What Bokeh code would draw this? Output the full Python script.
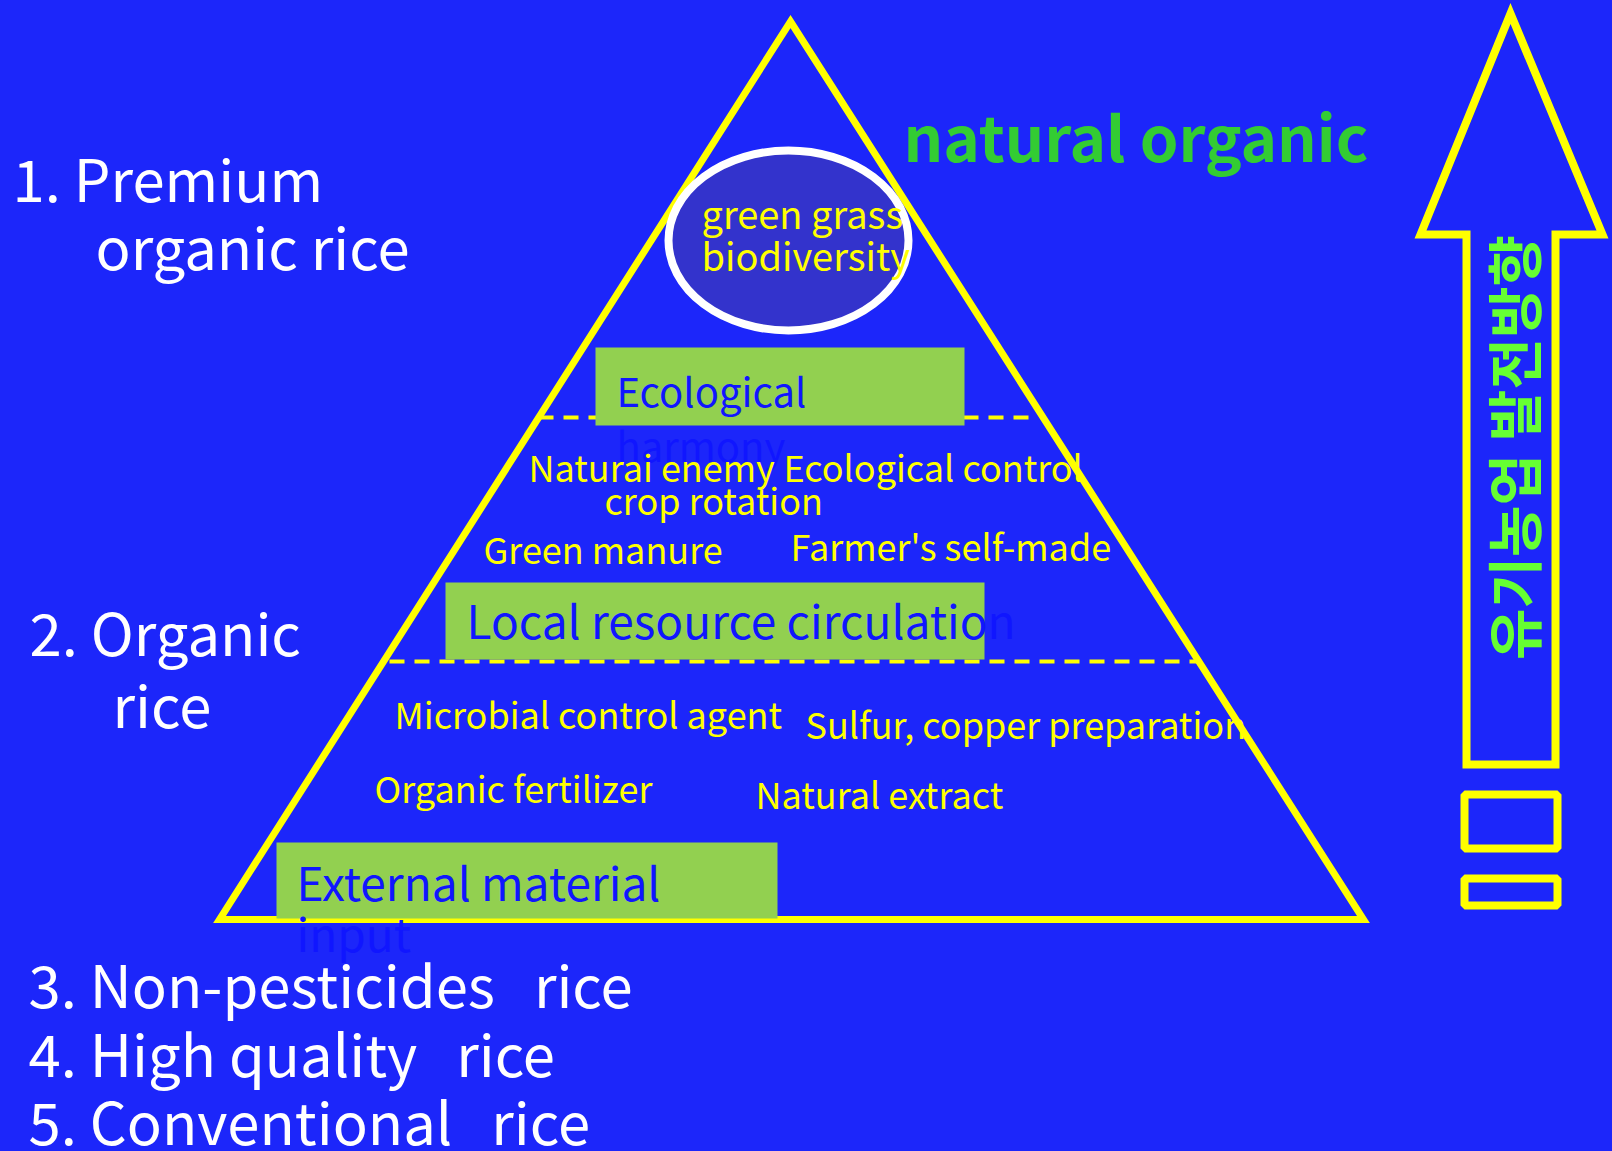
from math import pi
from bokeh.plotting import figure
from bokeh.models import Range1d
from bokeh.core.properties import value
from bokeh.embed import file_html
from bokeh.resources import INLINE

W, H = 1612, 1151
BG = "#1c26fa"
YEL = "#ffff00"
GRN_BOX = "#92d050"
BOX_TXT = "#1016ff"
LATIN = "Noto Sans CJK KR"
SHIFT = 0.42  # baseline correction (fraction of font size) for the svg text baseline
NB = "\u00a0"

# ---- geometry of the diagram (page pixels, y downwards) ----
tri_x = [790, 1363, 219]
tri_y = [21, 919, 919]

ell_x, ell_y, ell_w, ell_h = [788], [240], [240], [180]

box_left = [595, 445, 276]
box_right = [964, 984, 777]
box_top = [347, 582, 842]
box_bottom = [425, 659, 918]

dash_x0 = [538, 389]
dash_x1 = [1028, 1198]
dash_y = [417, 661]

arrow_x = [1510, 1602, 1555, 1555, 1466, 1466, 1420]
arrow_y = [13, 234, 234, 764, 764, 234, 234]
rect_left = [1464, 1464]
rect_right = [1557, 1557]
rect_top = [794, 878]
rect_bottom = [848, 905]

# ---- texts ----
white_texts = ["1. Premium", "organic rice", "2. Organic", "rice",
               "3. Non-pesticides" + NB * 2 + " rice",
               "4. High quality" + NB * 2 + " rice",
               "5. Conventional" + NB * 2 + " rice"]
white_x = [12, 95, 29, 112, 28, 28, 28]
white_y = [201, 269, 655, 727, 1007, 1076, 1144]
white_fs = 58

box_texts = ["Ecological", "harmony", "Local resource circulation", "External material", "input"]
box_tx = [616, 616, 466, 296, 296]
box_ty = [406, 461, 638, 900, 951]
box_fs = [40, 40, 46, 46, 46]

yel_texts = ["Naturai enemy", "Ecological control", "crop rotation", "Green manure",
             "Farmer's self-made", "Microbial control agent", "Sulfur, copper preparation",
             "Organic fertilizer", "Natural extract"]
yel_x = [528, 783, 604, 483, 790, 394, 805, 374, 755]
yel_y = [481, 481, 514, 563, 560, 728, 738, 802, 808]
yel_fs = 36

ell_texts = ["green grass", "biodiversity"]
ell_tx = [701, 701]
ell_ty = [228, 270]
ell_fs = 38

title_text = ["natural organic"]
title_x, title_y = [903], [161]
title_fs = 62

korean_text = ["유기농업 발전방향"]
korean_x, korean_y = [1511], [447]
korean_fs = 56


def shifted(ys, fs):
    return [y - SHIFT * fs for y in ys]


p = figure(width=W, height=H, x_range=Range1d(0, W), y_range=Range1d(H, 0),
           output_backend="svg", toolbar_location=None, min_border=0,
           background_fill_color=BG, border_fill_color=BG, outline_line_color=None)
p.axis.visible = False
p.grid.visible = False

# triangle
p.patch(tri_x, tri_y, fill_color=None, line_color=YEL, line_width=7, line_join="miter")

# ellipse
p.ellipse(ell_x, ell_y, width=ell_w, height=ell_h, fill_color="#3333cc",
          line_color="white", line_width=8)

# dashed lines
for x0, x1, y in zip(dash_x0, dash_x1, dash_y):
    p.line([x0, x1], [y, y], line_color=YEL, line_width=4, line_dash="15 10")

# green boxes
p.quad(left=box_left, right=box_right, top=box_top, bottom=box_bottom,
       fill_color=GRN_BOX, line_color=None)

# arrow and rectangles
p.patch(arrow_x, arrow_y, fill_color=None, line_color=YEL, line_width=8, line_join="miter")
p.quad(left=rect_left, right=rect_right, top=rect_top, bottom=rect_bottom,
       fill_color=None, line_color=YEL, line_width=8)

# texts
p.text(white_x, shifted(white_y, white_fs), text=white_texts, text_color="white",
       text_font=value(LATIN), text_font_size=f"{white_fs}px",
       text_baseline="alphabetic", text_align="left")
for t, x, y, fs in zip(box_texts, box_tx, box_ty, box_fs):
    p.text([x], shifted([y], fs), text=[t], text_color=BOX_TXT, text_font=value(LATIN),
           text_font_size=f"{fs}px", text_baseline="alphabetic", text_align="left")
p.text(yel_x, shifted(yel_y, yel_fs), text=yel_texts, text_color=YEL, text_font=value(LATIN),
       text_font_size=f"{yel_fs}px", text_baseline="alphabetic", text_align="left")
p.text(ell_tx, shifted(ell_ty, ell_fs), text=ell_texts, text_color=YEL, text_font=value(LATIN),
       text_font_size=f"{ell_fs}px", text_baseline="alphabetic", text_align="left")
p.text(title_x, shifted(title_y, title_fs), text=title_text, text_color="#33cc33",
       text_font=value(LATIN), text_font_size=f"{title_fs}px", text_font_style="bold",
       text_baseline="alphabetic", text_align="left")
p.text(korean_x, korean_y, text=korean_text, text_color="#66ff33",
       text_font=value("Noto Sans CJK KR"), text_font_size=f"{korean_fs}px",
       text_font_style="bold", text_baseline="middle", text_align="center", angle=pi / 2)

html = file_html(p, INLINE)
html = html.replace("<head>", "<head><style>html,body{margin:0;padding:0;overflow:hidden;background:%s;}</style>" % BG, 1)
open("out.html", "w").write(html)
